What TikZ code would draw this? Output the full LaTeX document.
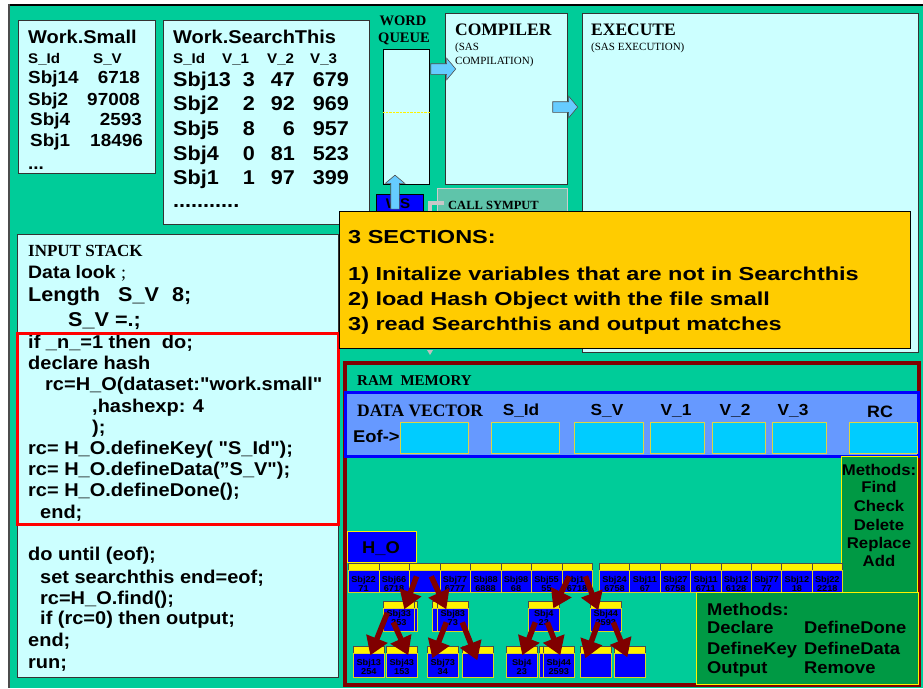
\documentclass[tikz,border=0pt]{standalone}
\usepackage{fontspec}
\setmainfont{Liberation Sans}[FakeStretch=1.08, Ligatures=TeXOff]
\newfontfamily\widesans{Liberation Sans}[FakeStretch=1.25]
\newfontfamily\tms{Liberation Serif}
\usetikzlibrary{shapes.arrows,arrows.meta}

\definecolor{slidegreen}{RGB}{0,204,153}
\definecolor{palecyan}{RGB}{204,255,255}
\definecolor{arrowblue}{RGB}{102,204,255}
\definecolor{notegold}{RGB}{255,204,0}
\definecolor{ramred}{RGB}{128,0,0}
\definecolor{vecblue}{RGB}{102,153,255}
\definecolor{cellcyan}{RGB}{0,204,255}
\definecolor{methgreen}{RGB}{0,153,68}
\definecolor{sympgreen}{RGB}{95,196,170}
\definecolor{hashblue}{RGB}{0,0,255}

\tikzset{
  panel/.style={anchor=north west, draw=black!80, fill=palecyan, line width=0.8pt, inner sep=0pt},
  txtl/.style={anchor=base west, inner sep=0pt, font=\fontsize{#1}{#1}\selectfont\bfseries},
  txtr/.style={anchor=base east, inner sep=0pt, font=\fontsize{#1}{#1}\selectfont\bfseries},
  txtc/.style={anchor=base, inner sep=0pt, font=\fontsize{#1}{#1}\selectfont\bfseries},
  srfl/.style={anchor=base west, inner sep=0pt, font=\fontsize{#1}{#1}\selectfont\tms\bfseries},
  srfc/.style={anchor=base, inner sep=0pt, font=\fontsize{#1}{#1}\selectfont\tms\bfseries},
  srfm/.style={anchor=base west, inner sep=0pt, font=\fontsize{#1}{#1}\selectfont\tms},
  widel/.style={anchor=base west, inner sep=0pt, font=\fontsize{#1}{#1}\selectfont\widesans\bfseries},
  blockarrow/.style={single arrow, draw=black!70, fill=arrowblue, line width=0.6pt,
    inner xsep=0pt, inner ysep=5pt, single arrow head extend=5.5pt, single arrow tip angle=100},
  dvcell/.style={anchor=north west, draw=yellow!70!gray, fill=cellcyan, line width=0.6pt, inner sep=0pt, minimum height=31pt},
  methbox/.style={anchor=north west, draw=yellow, fill=methgreen, line width=0.8pt, inner sep=0pt},
  hbar/.style={anchor=north west, draw=black!70, fill=yellow, line width=0.6pt, inner sep=0pt, minimum width=31pt, minimum height=7pt},
  hbody/.style={anchor=north west, draw=yellow!85!black, fill=hashblue, line width=0.6pt, inner sep=0pt, minimum width=31pt},
  cellt/.style={align=center, inner sep=0pt, font=\fontsize{8.5}{9}\selectfont\bfseries},
  hasharrow/.style={draw=ramred, line width=5.5pt, -{Triangle[length=18pt,width=22pt]}}
}

\begin{document}
\begin{tikzpicture}[x=1pt,y=-1pt]
    \useasboundingbox (0,0) rectangle (923,688);
    \fill[white] (0,0) rectangle (923,688);
    \fill[slidegreen] (9,4) rectangle (923,688);
    \draw[black, line width=2pt] (9,5) -- (923,5);
    \draw[black!70, line width=1.5pt] (9,4) -- (9,688);

    % Work.Small
    \node[panel, minimum width=137, minimum height=153] (small) at (18,20) {};
    \node[txtl=18.5] (smallT) at (28,43) {Work.Small};
    \node[txtl=14] (smallH1) at (28,63) {S\_Id};
    \node[txtl=14] (smallH2) at (93,63) {S\_V};
    \foreach \i/\x/\y/\k/\v/\r in {1/28/83.3/Sbj14/6718/140, 2/28/105/Sbj2/97008/140,
        3/30/125.5/Sbj4/2593/142, 4/30/146.5/Sbj1/18496/143} {
      \node[txtl=17.5] (smallK\i) at (\x,\y) {\k};
      \node[txtr=17.5] (smallV\i) at (\r,\y) {\v};
    }
    \node[txtl=17.5] (smallDots) at (28,169) {...};

    % Work.SearchThis
    \node[panel, minimum width=206, minimum height=204] (search) at (163,20) {};
    \node[txtl=18.5] (searchT) at (173,43) {Work.SearchThis};
    \foreach \i/\x/\t in {1/173/S\_Id, 2/222/V\_1, 3/267/V\_2, 4/310/V\_3}
      \node[txtl=14] (searchH\i) at (\x,63) {\t};
    \foreach \i/\y/\k/\a/\b/\c in {1/86/Sbj13/3/47/679, 2/110/Sbj2/2/92/969, 3/135/Sbj5/8/6/957,
        4/160/Sbj4/0/81/523, 5/184/Sbj1/1/97/399} {
      \node[txtl=20] (searchK\i) at (173,\y) {\k};
      \node[txtr=20] (searchA\i) at (255,\y) {\a};
      \node[txtr=20] (searchB\i) at (295,\y) {\b};
      \node[txtr=20] (searchC\i) at (349,\y) {\c};
    }
    \node[txtl=20] (searchDots) at (173,207) {...........};

    % word queue, compiler, execute
    \node[srfc=14.5] (wqT1) at (403,25) {WORD};
    \node[srfc=14.5] (wqT2) at (404,42.7) {QUEUE};
    \node[panel, draw=black, minimum width=46, minimum height=135] (wq) at (383,49) {};
    \draw[yellow, densely dotted, thin] (wq.west |- 0,112) -- (wq.east |- 0,112);
    \node[panel, minimum width=122, minimum height=171] (comp) at (445,13) {};
    \node[srfl=17.5] (compT) at (455,35.8) {COMPILER};
    \node[srfm=11] (compS1) at (455,50) {(SAS};
    \node[srfm=11] (compS2) at (455,64) {COMPILATION)};
    \node[panel, minimum width=336, minimum height=339] (exec) at (582,13) {};
    \node[srfl=17.5] (execT) at (591,35.8) {EXECUTE};
    \node[srfm=11] (execS) at (591,50) {(SAS EXECUTION)};

    \node[blockarrow, minimum height=25pt] (wq2comp) at (441,69) {};
    \node[blockarrow, minimum height=25pt] (comp2exec) at (563,107) {};

    % call symput and WS
    \node[panel, fill=sympgreen, draw=black!20, minimum width=130, minimum height=26] (symput) at (437,188) {};
    \node[srfl=12.5] (symputT) at (448,209) {CALL SYMPUT};
    \draw[black!22, line width=3.5pt] (444,203) -- (430,203) -- (430,214);
    \node[panel, fill=hashblue, draw=black, minimum width=47, minimum height=20] (ws) at (376,194) {};
    \node[txtc=14] (wsT) at (398,208) {WS};
    \node[blockarrow, rotate=90, inner ysep=4pt, single arrow head extend=5.5pt, minimum height=34pt] (ws2wq) at (395,194) {};

    % input stack
    \node[panel, minimum width=321, minimum height=443] (input) at (17,234) {};
    \node[srfl=17] (inputT) at (28,256) {INPUT STACK};
    \node[txtl=18] (look) at (28,278.5) {Data look {\tms\mdseries ;}};
    \node[txtl=20] (len1) at (28,301) {Length};
    \node[txtl=20] (len2) at (118,301) {S\_V};
    \node[txtl=20] (len3) at (172,301) {8;};
    \node[txtl=20] (svinit) at (68,326) {S\_V =.;};
    \foreach \i/\x/\y/\t in {1/28/348.5/{if \_n\_=1 then\ \ do;}, 2/28/369.5/{declare hash},
        3/45/390.5/{rc=H\_O(dataset:"work.small"}, 4/92/412.5/{,hashexp: 4}, 5/92/433.5/{);},
        6/28/454.5/{rc= H\_O.defineKey( "S\_Id");}, 7/28/475.5/{rc= H\_O.defineData(”S\_V");},
        8/28/496.5/{rc= H\_O.defineDone();}, 9/40/518.5/{end;}, 10/28/560.5/{do until (eof);},
        11/40/583.5/{set searchthis end=eof;}, 12/40/604.5/{rc=H\_O.find();},
        13/40/624.5/{if (rc=0) then output;}, 14/28/646.5/{end;}, 15/28/668.5/{run;}}
      \node[txtl=18.5] (code\i) at (\x,\y) {\t};
    \draw[red, line width=3pt] (17,333) rectangle (338,524);

    % 3 sections note
    \node[panel, fill=notegold, draw=black, minimum width=571, minimum height=137] (note) at (339,211) {};
    \node[widel=18.8] (noteT) at (348,243.5) {3 SECTIONS:};
    \node[widel=18.8] (note1) at (348,280) {1) Initalize variables that are not in Searchthis};
    \node[widel=18.8] (note2) at (348,305) {2) load Hash Object with the file small};
    \node[widel=18.8] (note3) at (348,330) {3) read Searchthis and output matches};
    \fill[black!25] (427,350) -- (433,350) -- (430,355) -- cycle;

    % RAM memory
    \draw[ramred, line width=3.5pt] (345,363) rectangle (919,685);
    \node[srfl=15] (ramT) at (357,385.5) {RAM\ \ MEMORY};
    \draw[hashblue, fill=vecblue, line width=3pt] (345,392) rectangle (918,456);
    \node[srfl=17.5] (dvT) at (357,416) {DATA VECTOR};
    \foreach \i/\x/\w in {1/400/68, 2/491/68, 3/574/69, 4/650/54, 5/712/53, 6/772/54, 7/849/68}
      \node[dvcell, minimum width=\w] (dv\i) at (\x,422) {};
    \foreach \i/\x/\t in {2/521/S\_Id, 3/607/S\_V, 4/676/V\_1, 5/735/V\_2, 6/793/V\_3}
      \node[txtc=16] (dvH\i) at (\x,415) {\t};
    \node[txtc=16.5] (dvH7) at (880,417) {RC};
    \node[txtl=17] (eof) at (353,442) {Eof->};

    \node[methbox, minimum width=76, minimum height=136] (meth1) at (841,456) {};
    \foreach \i/\y/\t in {1/475/Methods:, 2/492.7/Find, 3/511/Check, 4/530/Delete, 5/548/Replace, 6/566/Add}
      \node[txtc=15.5] (meth1T\i) at (879,\y) {\t};

    \node[panel, fill=hashblue, draw=yellow, minimum width=69, minimum height=31] (ho) at (347,531) {};
    \node[txtc=17] (hoT) at (381,553) {H\_O};

    % hash buckets
    \foreach \i/\a/\b in {1/Sbj22/71, 2/Sbj66/6718, 3/{}/{}, 4/Sbj77/6777, 5/Sbj88/6888,
        6/Sbj98/68, 7/Sbj55/55, 8/Sbj14/6718} {
      \node[hbar, minimum width=30.5] (bar\i) at ({348+30.5*(\i-1)},563) {};
      \node[hbody, minimum width=30.5, minimum height=22] (bkt\i) at ({348+30.5*(\i-1)},570) {};
      \node[cellt] (bktT\i) at ([yshift=-3pt]bkt\i.center) {\a\\\b};
    }
    \foreach \i/\a/\b in {9/Sbj24/6758, 10/Sbj11/67, 11/Sbj27/6758, 12/Sbj11/6711, 13/Sbj12/6128,
        14/Sbj77/77, 15/Sbj12/18, 16/Sbj22/2218} {
      \node[hbar, minimum width=30.4] (bar\i) at ({599+30.4*(\i-9)},563) {};
      \node[hbody, minimum width=30.4, minimum height=22] (bkt\i) at ({599+30.4*(\i-9)},570) {};
      \node[cellt] (bktT\i) at ([yshift=-3pt]bkt\i.center) {\a\\\b};
    }

    % second level
    \foreach \n/\x in {A/386, B/432} {
      \node[hbar] (kbar\n0) at (\x,601) {};
      \node[hbody, minimum height=23] (k\n0) at (\x,608) {};
    }
    \foreach \n/\x/\a/\b in {A/383/Sbj33/253, B/437/Sbj83/73, C/528/Sbj4/23, D/590/Sbj44/2593} {
      \node[hbar] (kbar\n) at (\x,601) {};
      \node[hbody, minimum height=23] (k\n) at (\x,608) {};
      \node[cellt] (kT\n) at ([yshift=1.5pt]k\n.center) {\a\\\b};
    }

    % third level
    \node[hbar] (lbar0) at (539,646) {};
    \node[hbody, minimum height=24] (leaf0) at (539,653) {};
    \foreach \i/\x/\a/\b in {1/353/Sbj13/254, 2/386/Sbj43/153, 3/427/Sbj73/34, 4/462/{}/{},
        5/506/Sbj4/23, 6/543/Sbj44/2593, 7/580/{}/{}, 8/614/{}/{}} {
      \node[hbar] (lbar\i) at (\x,646) {};
      \node[hbody, minimum height=24] (leaf\i) at (\x,653) {};
      \node[cellt] (leafT\i) at ([yshift=-1.5pt]leaf\i.center) {\a\\\b};
    }

    % hash chains
    \foreach \s/\sx/\sy/\e/\ex/\ey in {bkt3/-8/-5/kA/5.5/-10.5, bkt3/6.7/-5/kB/-6.5/-10.5,
        bkt8/-7.75/-5/kC/9.5/-11.5, bkt8/8.25/-5/kD/-7.5/-9.5,
        kA/-11.5/-7/leaf1/1.5/-10, kA/-5.5/2.5/leaf2/6.5/-10,
        kB/-6.5/2.5/leaf3/-10.5/-7, kB/9.5/2.5/leaf4/-0.5/-5,
        kC/-8.5/2.5/leaf5/0.5/-10, kC/3.5/2.5/leaf6/1.5/-10,
        kD/-7.5/2.5/leaf7/-10.5/-7, kD/7.5/2.5/leaf8/-2.5/-8}
      \draw[hasharrow] ([shift={(\sx,\sy)}]\s.center) -- ([shift={(\ex,\ey)}]\e.center);

    % methods list
    \node[methbox, minimum width=222, minimum height=92] (meth2) at (696,592) {};
    \foreach \i/\y/\a/\b in {1/615/Methods:/{}, 2/633.3/Declare/DefineDone, 3/654/DefineKey/DefineData, 4/673.3/Output/Remove} {
      \node[txtl=17] (meth2A\i) at (707,\y) {\a};
      \node[txtl=17] (meth2B\i) at (804,\y) {\b};
    }
\end{tikzpicture}
\end{document}
